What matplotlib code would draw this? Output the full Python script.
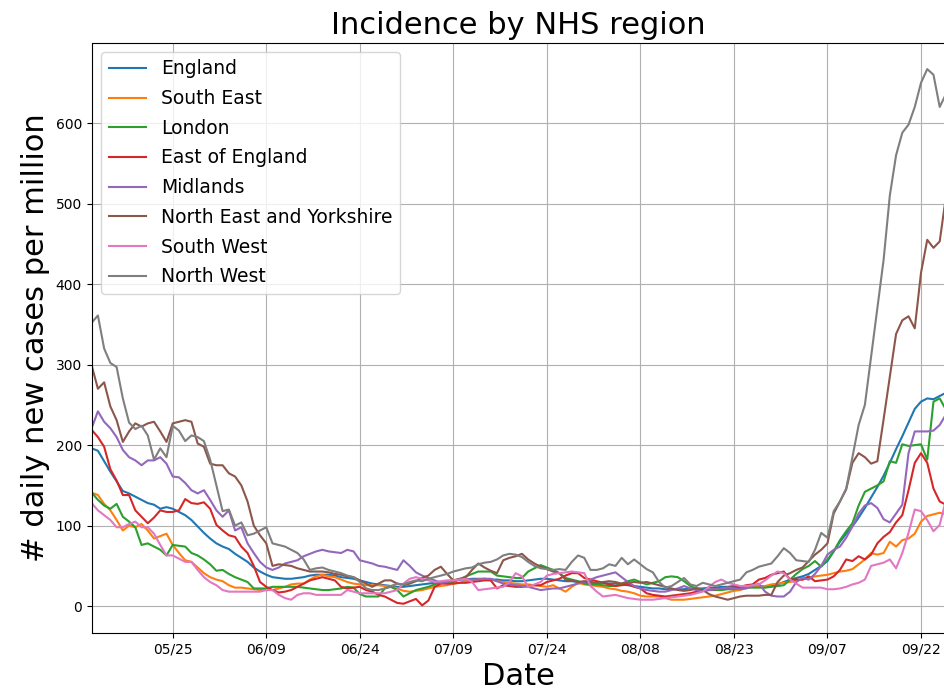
import numpy as np
import pandas as pd
import matplotlib
matplotlib.use('Agg')
import matplotlib.pyplot as plt
import matplotlib.dates as mdates

# daily new cases per million, 12 May - 26 Sep 2020
dates = pd.date_range('2020-05-12', '2020-09-26', freq='D')

england = [196, 193, 180, 167, 155, 143, 140, 136, 132, 128,
           126, 121, 123, 121, 117, 113, 107, 99, 91, 84,
           78, 74, 71, 65, 60, 55, 48, 43, 39, 36,
           35, 34, 34, 35, 36, 38, 39, 39, 39, 38,
           36, 35, 34, 32, 30, 28, 27, 26, 25, 24,
           24, 25, 26, 27, 28, 29, 30, 31, 32, 33,
           33, 34, 34, 34, 33, 33, 32, 32, 31, 31,
           32, 33, 34, 34, 33, 32, 31, 31, 30, 30,
           29, 29, 29, 28, 28, 27, 26, 25, 24, 23,
           22, 22, 21, 21, 21, 21, 22, 22, 22, 23,
           23, 24, 24, 25, 25, 25, 24, 24, 24, 25,
           27, 30, 33, 35, 37, 40, 45, 50, 56, 68,
           80, 90, 99, 110, 122, 135, 148, 162, 178, 195,
           211, 228, 245, 254, 258, 257, 261, 265]

south_east = [141, 138, 127, 119, 107, 94, 100, 98, 102, 94,
              84, 87, 90, 76, 66, 57, 55, 48, 41, 36,
              33, 31, 26, 23, 23, 22, 21, 20, 20, 20,
              22, 24, 27, 28, 28, 33, 37, 39, 37, 36,
              33, 30, 28, 27, 26, 26, 26, 25, 24, 22,
              19, 18, 19, 20, 22, 24, 25, 26, 28, 29,
              31, 32, 33, 34, 33, 31, 30, 29, 28, 27,
              27, 26, 25, 24, 26, 22, 18, 24, 29, 27,
              26, 25, 24, 22, 21, 19, 18, 16, 13, 12,
              12, 12, 10, 8, 8, 8, 9, 10, 11, 12,
              13, 15, 17, 19, 20, 23, 24, 25, 25, 27,
              28, 29, 30, 32, 33, 35, 37, 38, 39, 41,
              43, 44, 46, 52, 58, 66, 64, 66, 80, 74,
              82, 84, 90, 105, 112, 114, 116, 114]

london = [141, 132, 125, 121, 127, 111, 105, 98, 76, 78,
          74, 70, 63, 76, 75, 74, 66, 63, 58, 52,
          44, 45, 40, 36, 33, 30, 22, 22, 22, 24,
          24, 24, 24, 24, 23, 22, 21, 20, 20, 21,
          22, 24, 23, 15, 12, 12, 12, 22, 24, 20,
          12, 16, 20, 22, 24, 27, 30, 30, 30, 33,
          37, 40, 43, 43, 43, 38, 37, 36, 35, 35,
          43, 47, 51, 48, 45, 41, 35, 33, 31, 28,
          27, 27, 26, 25, 25, 28, 31, 33, 30, 27,
          29, 31, 36, 37, 36, 31, 25, 22, 20, 20,
          20, 20, 21, 21, 22, 23, 23, 23, 23, 24,
          25, 26, 33, 40, 46, 50, 56, 49, 58, 68,
          82, 93, 103, 125, 142, 146, 150, 155, 180, 178,
          201, 199, 200, 201, 182, 254, 258, 244]

east_of_england = [219, 210, 198, 170, 156, 138, 138, 119, 111, 103,
                   110, 119, 117, 117, 119, 133, 128, 127, 129, 121,
                   101, 94, 88, 86, 74, 66, 50, 30, 24, 20,
                   17, 18, 20, 24, 28, 32, 34, 36, 34, 32,
                   24, 22, 23, 24, 20, 18, 14, 12, 8, 4,
                   3, 6, 9, 1, 7, 24, 28, 28, 28, 29,
                   29, 30, 31, 32, 32, 22, 26, 25, 24, 24,
                   25, 26, 26, 30, 32, 34, 38, 41, 41, 35,
                   33, 31, 29, 27, 25, 26, 27, 24, 22, 16,
                   14, 13, 12, 13, 14, 15, 16, 18, 20, 20,
                   21, 22, 23, 23, 24, 26, 27, 33, 35, 39,
                   41, 43, 33, 33, 33, 37, 31, 32, 33, 37,
                   45, 58, 56, 62, 58, 64, 78, 86, 92, 104,
                   113, 144, 178, 190, 178, 146, 130, 126]

midlands = [221, 242, 229, 221, 210, 194, 185, 181, 175, 181,
            181, 185, 177, 161, 160, 153, 144, 140, 144, 132,
            119, 111, 119, 94, 98, 78, 66, 55, 48, 45,
            48, 53, 55, 57, 62, 65, 68, 70, 68, 67,
            66, 70, 68, 57, 55, 53, 50, 49, 47, 45,
            57, 50, 42, 38, 35, 32, 29, 30, 32, 33,
            34, 33, 33, 34, 34, 31, 28, 27, 26, 25,
            24, 22, 20, 21, 22, 22, 24, 26, 28, 30,
            33, 36, 38, 40, 42, 36, 30, 25, 22, 20,
            19, 18, 18, 20, 22, 25, 22, 20, 19, 20,
            21, 22, 23, 22, 21, 22, 25, 28, 18, 13,
            12, 12, 18, 30, 35, 33, 40, 50, 64, 70,
            74, 85, 99, 115, 125, 128, 122, 108, 104, 115,
            126, 190, 217, 217, 217, 218, 225, 238]

ne_yorkshire = [299, 270, 278, 248, 231, 204, 217, 227, 223, 227,
                229, 217, 204, 227, 229, 231, 229, 202, 198, 177,
                175, 175, 165, 161, 150, 130, 100, 88, 78, 50,
                52, 51, 50, 47, 45, 43, 43, 43, 42, 40,
                39, 37, 36, 32, 28, 24, 28, 32, 32, 28,
                26, 28, 31, 35, 38, 45, 49, 40, 32, 34,
                36, 45, 53, 48, 44, 41, 57, 60, 62, 65,
                58, 53, 49, 46, 43, 41, 33, 32, 30, 31,
                30, 29, 30, 31, 30, 28, 29, 30, 29, 30,
                28, 26, 24, 22, 20, 19, 20, 22, 20, 15,
                12, 10, 8, 10, 12, 13, 13, 13, 14, 14,
                30, 38, 41, 45, 48, 56, 64, 70, 78, 115,
                130, 145, 178, 190, 185, 177, 180, 232, 285, 338,
                355, 360, 345, 414, 455, 445, 453, 509]

south_west = [128, 119, 113, 107, 98, 98, 102, 105, 98, 98,
              90, 76, 63, 63, 59, 55, 55, 45, 36, 30,
              26, 20, 18, 18, 18, 18, 18, 18, 20, 20,
              14, 10, 8, 14, 16, 16, 14, 14, 14, 14,
              14, 20, 18, 16, 16, 16, 16, 16, 18, 20,
              28, 34, 36, 34, 32, 30, 31, 32, 32, 33,
              34, 30, 20, 21, 22, 23, 24, 30, 41, 37,
              24, 27, 30, 38, 40, 41, 42, 43, 42, 41,
              25, 18, 12, 13, 14, 12, 10, 9, 8, 8,
              8, 9, 10, 11, 12, 13, 14, 16, 18, 24,
              30, 33, 29, 27, 25, 25, 26, 27, 32, 38,
              43, 41, 33, 28, 23, 23, 23, 23, 21, 21,
              22, 24, 27, 29, 33, 50, 52, 54, 58, 47,
              66, 91, 120, 118, 107, 93, 101, 132]

north_west = [352, 361, 320, 302, 297, 258, 228, 220, 224, 212,
              182, 196, 185, 224, 218, 205, 212, 210, 205, 182,
              150, 118, 120, 100, 104, 88, 90, 94, 98, 78,
              76, 74, 70, 66, 58, 45, 47, 48, 45, 43,
              41, 38, 36, 30, 22, 20, 20, 22, 25, 28,
              27, 30, 32, 31, 34, 36, 38, 40, 43, 45,
              47, 48, 52, 54, 55, 58, 63, 65, 64, 61,
              55, 50, 47, 46, 45, 46, 45, 55, 63, 60,
              45, 45, 47, 52, 50, 60, 52, 58, 52, 46,
              42, 30, 23, 25, 30, 35, 27, 25, 29, 27,
              25, 27, 29, 31, 33, 42, 45, 49, 51, 53,
              62, 72, 66, 57, 56, 55, 70, 91, 85, 118,
              130, 146, 185, 225, 250, 310, 370, 430, 510, 560,
              588, 598, 620, 650, 667, 660, 620, 636]

regions = ['England', 'South East', 'London', 'East of England', 'Midlands',
           'North East and Yorkshire', 'South West', 'North West']
series = [england, south_east, london, east_of_england, midlands,
          ne_yorkshire, south_west, north_west]

fig = plt.figure(figsize=(9.45, 6.95), dpi=100)
ax = fig.add_axes([0.097, 0.0896, 0.904, 0.8492])

for name, vals in zip(regions, series):
    ax.plot(dates, vals, lw=1.5, label=name)

ax.set_xlim(dates[0], dates[-1])
ax.set_ylim(-33, 700)
ax.set_xticks(pd.date_range('2020-05-25', periods=9, freq='15D'))
ax.xaxis.set_major_formatter(mdates.DateFormatter('%m/%d'))
ax.set_yticks([0, 100, 200, 300, 400, 500, 600])

ax.set_title('Incidence by NHS region', fontsize=22)
ax.set_xlabel('Date', fontsize=22)
ax.set_ylabel('# daily new cases per million', fontsize=22)
ax.legend(loc='upper left', fontsize=13.5, labelspacing=0.57)
ax.grid()

fig.savefig('out.png', dpi=100)
